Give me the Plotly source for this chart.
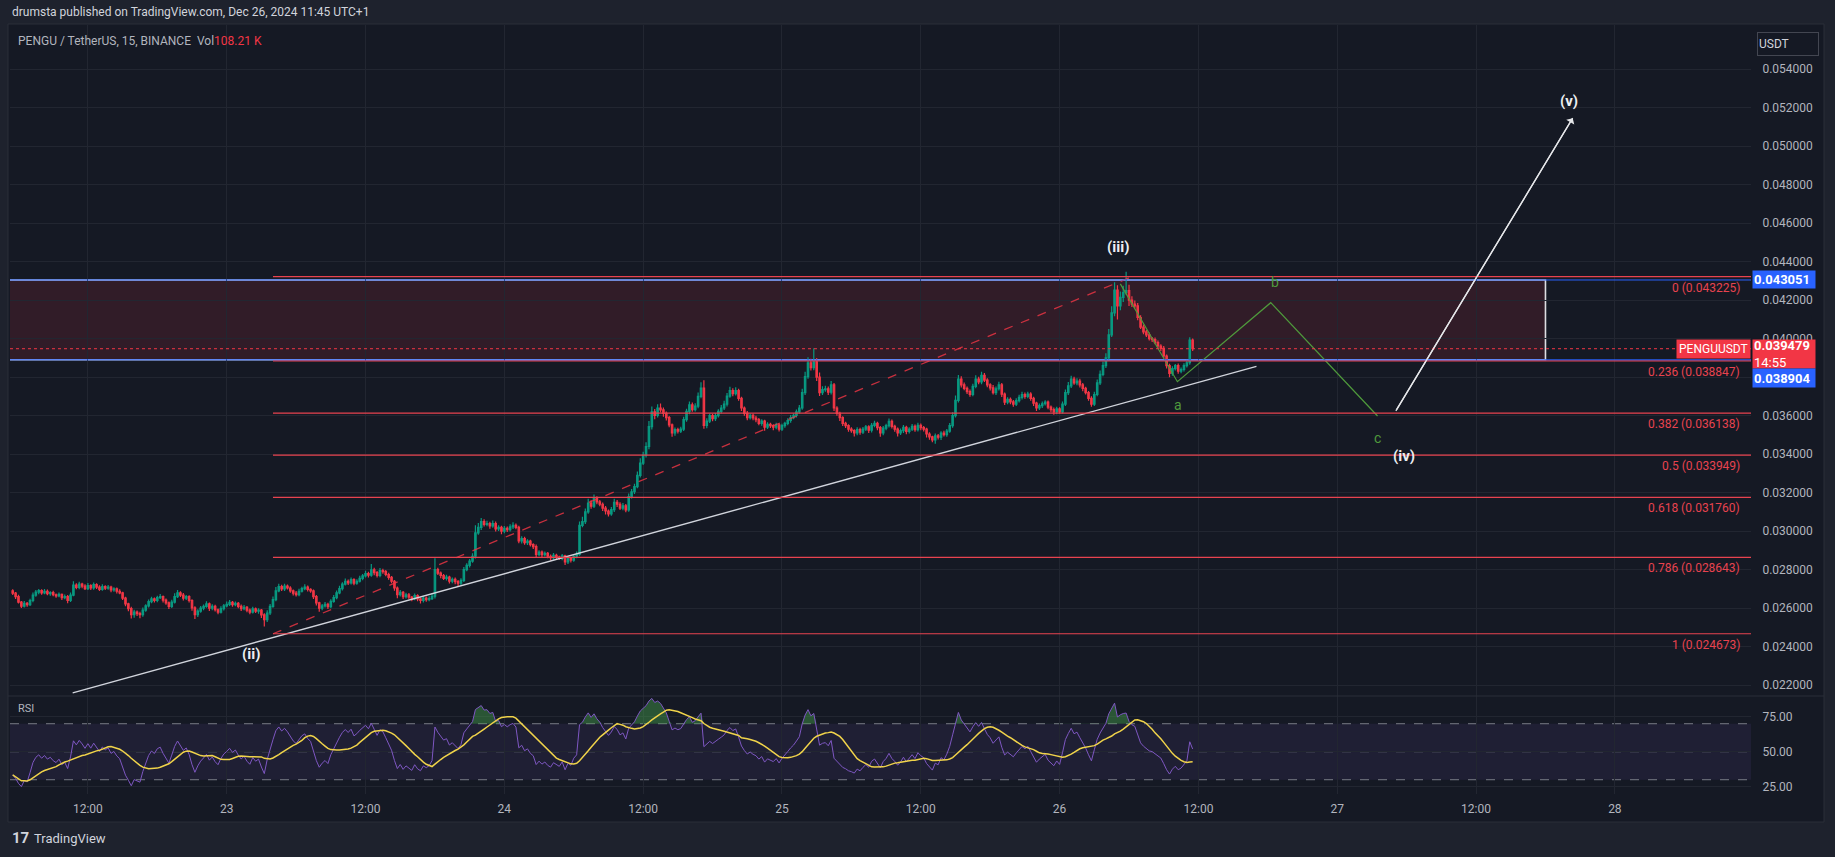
import numpy as np
import pandas as pd
import plotly.graph_objects as go

# ---------------- data (prices in units of 1e-5 USDT) ----------------
start_time = "2024-12-22 05:30"
bar_minutes = 15
price_unit = 1e-5
first_open = 2690

closes = (
    [2678, 2660, 2632, 2611, 2625, 2618, 2640, 2668, 2684, 2692, 2680, 2688, 2676, 2681, 2670, 2664]
    + [2672, 2655, 2660, 2640, 2668, 2720, 2708, 2725, 2715, 2702, 2718, 2705, 2722, 2710, 2698, 2712]
    + [2704, 2710, 2695, 2700, 2688, 2680, 2652, 2622, 2598, 2566, 2580, 2572, 2566, 2590, 2612, 2634]
    + [2648, 2640, 2655, 2660, 2642, 2628, 2610, 2632, 2660, 2680, 2668, 2652, 2660, 2640, 2602, 2566]
    + [2585, 2600, 2610, 2622, 2600, 2610, 2592, 2580, 2598, 2612, 2620, 2630, 2618, 2625, 2610, 2598]
    + [2605, 2590, 2580, 2596, 2585, 2590, 2565, 2540, 2575, 2610, 2645, 2690, 2712, 2700, 2715, 2705]
    + [2690, 2678, 2670, 2688, 2702, 2710, 2698, 2690, 2660, 2628, 2600, 2612, 2620, 2608, 2635, 2655]
    + [2680, 2702, 2725, 2740, 2732, 2748, 2730, 2740, 2755, 2768, 2780, 2772, 2799, 2785, 2770, 2795]
    + [2790, 2775, 2760, 2740, 2705, 2670, 2682, 2660, 2670, 2658, 2650, 2665, 2648, 2640, 2652, 2645]
    + [2650, 2662, 2800, 2782, 2770, 2755, 2762, 2740, 2750, 2738, 2730, 2745, 2800, 2822, 2845, 2870]
    + [2991, 3020, 3050, 3035, 3040, 3028, 3040, 3012, 3020, 3000, 3015, 3008, 3022, 3030, 3020, 2950]
    + [2962, 2940, 2948, 2930, 2920, 2880, 2892, 2878, 2885, 2870, 2862, 2875, 2866, 2860, 2872, 2840]
    + [2858, 2850, 2870, 2880, 3030, 3050, 3100, 3146, 3130, 3170, 3152, 3140, 3120, 3105, 3090, 3112]
    + [3150, 3140, 3120, 3132, 3110, 3180, 3205, 3232, 3290, 3354, 3395, 3440, 3543, 3620, 3602, 3640]
    + [3630, 3612, 3590, 3552, 3510, 3528, 3520, 3530, 3580, 3622, 3656, 3632, 3650, 3700, 3744, 3550]
    + [3572, 3600, 3585, 3600, 3622, 3640, 3660, 3702, 3730, 3715, 3730, 3690, 3640, 3612, 3590, 3602]
    + [3588, 3580, 3560, 3572, 3540, 3555, 3548, 3540, 3552, 3530, 3548, 3560, 3575, 3590, 3602, 3620]
    + [3640, 3720, 3803, 3874, 3850, 3880, 3800, 3720, 3735, 3740, 3722, 3760, 3640, 3612, 3590, 3560]
    + [3548, 3530, 3522, 3510, 3528, 3515, 3530, 3542, 3525, 3550, 3560, 3538, 3510, 3535, 3548, 3570]
    + [3545, 3530, 3510, 3522, 3540, 3518, 3530, 3545, 3528, 3550, 3538, 3530, 3505, 3490, 3474, 3495]
    + [3488, 3510, 3502, 3520, 3548, 3600, 3680, 3790, 3760, 3742, 3725, 3710, 3752, 3790, 3775, 3810]
    + [3785, 3760, 3745, 3720, 3740, 3760, 3712, 3670, 3685, 3672, 3660, 3678, 3695, 3710, 3700, 3712]
    + [3690, 3665, 3640, 3652, 3662, 3670, 3645, 3632, 3620, 3635, 3620, 3660, 3720, 3755, 3790, 3770]
    + [3780, 3760, 3742, 3720, 3690, 3660, 3710, 3770, 3815, 3860, 3900, 4020, 4134, 4253, 4170, 4215]
    + [4240, 4250, 4200, 4180, 4170, 4110, 4060, 4035, 4020, 4000, 3995, 3980, 3962, 3950, 3910, 3860]
    + [3820, 3845, 3860, 3832, 3840, 3860, 3875, 3993, 3948]
)

upper_wicks = (
    [8, 6, 10, 5, 12, 7, 9, 14, 11, 8, 6, 12, 9, 7, 10, 6]
    + [9, 5, 11, 8, 14, 20, 9, 12, 7, 10, 13, 6, 11, 8, 9, 12]
    + [7, 10, 6, 9, 8, 11, 5, 7, 6, 9, 12, 8, 10, 14, 9, 11]
    + [12, 8, 10, 14, 6, 9, 7, 12, 18, 15, 8, 11, 9, 7, 6, 8]
    + [10, 12, 9, 14, 7, 11, 8, 6, 12, 10, 15, 13, 8, 10, 7, 9]
    + [11, 7, 9, 12, 8, 10, 6, 9, 14, 12, 16, 20, 15, 10, 12, 8]
    + [9, 7, 11, 13, 10, 14, 8, 6, 7, 9, 5, 10, 12, 8, 11, 13]
    + [12, 15, 10, 14, 9, 12, 8, 11, 13, 10, 15, 9, 30, 11, 8, 14]
    + [10, 8, 9, 7, 6, 8, 12, 7, 10, 9, 6, 11, 8, 7, 10, 9]
    + [12, 15, 60, 10, 9, 8, 12, 7, 10, 9, 8, 11, 14, 12, 10, 15]
    + [40, 22, 18, 12, 14, 9, 16, 10, 11, 8, 12, 9, 14, 16, 10, 8]
    + [12, 9, 10, 8, 7, 11, 9, 8, 10, 7, 9, 12, 8, 7, 10, 6]
    + [9, 8, 12, 15, 20, 25, 18, 22, 15, 20, 12, 10, 9, 11, 8, 14]
    + [18, 12, 10, 14, 9, 16, 14, 15, 20, 25, 18, 22, 30, 28, 15, 20]
    + [24, 12, 10, 9, 8, 11, 10, 12, 15, 14, 18, 12, 15, 20, 30, 40]
    + [15, 12, 10, 14, 12, 15, 18, 16, 20, 12, 18, 10, 9, 8, 12, 10]
    + [9, 12, 8, 10, 7, 11, 9, 8, 12, 7, 10, 9, 12, 14, 10, 12]
    + [15, 20, 25, 30, 22, 70, 20, 25, 18, 15, 12, 20, 10, 9, 8, 7]
    + [9, 8, 10, 7, 12, 9, 11, 10, 8, 12, 14, 9, 8, 11, 10, 15]
    + [10, 8, 9, 11, 12, 8, 10, 12, 9, 14, 10, 8, 7, 9, 6, 12]
    + [10, 9, 12, 11, 14, 18, 25, 22, 15, 12, 10, 11, 14, 20, 12, 18]
    + [12, 10, 9, 14, 12, 16, 10, 8, 11, 9, 10, 12, 14, 15, 10, 12]
    + [10, 9, 8, 11, 12, 10, 9, 8, 10, 12, 9, 14, 16, 20, 18, 12]
    + [15, 12, 10, 9, 8, 11, 14, 18, 20, 22, 25, 30, 35, 40, 25, 30]
    + [35, 98, 30, 20, 18, 15, 12, 14, 10, 12, 9, 11, 10, 9, 12, 8]
    + [10, 12, 9, 11, 10, 12, 15, 15, 8]
)

lower_wicks = (
    [9, 12, 8, 10, 7, 11, 6, 9, 8, 12, 10, 7, 9, 11, 8, 10]
    + [7, 12, 9, 14, 8, 6, 10, 9, 12, 8, 7, 11, 9, 10, 8, 7]
    + [10, 8, 12, 9, 11, 7, 10, 12, 14, 20, 15, 12, 18, 10, 8, 9]
    + [8, 11, 9, 7, 12, 10, 14, 9, 8, 7, 10, 12, 9, 11, 15, 22]
    + [12, 9, 10, 8, 14, 11, 9, 12, 8, 10, 7, 9, 11, 8, 10, 12]
    + [9, 11, 12, 8, 10, 14, 16, 35, 12, 10, 8, 9, 7, 11, 10, 8]
    + [10, 12, 9, 8, 7, 9, 11, 10, 12, 14, 18, 10, 9, 12, 8, 7]
    + [9, 8, 10, 7, 12, 9, 11, 8, 7, 10, 9, 12, 8, 14, 10, 9]
    + [11, 9, 12, 10, 14, 18, 9, 12, 10, 11, 14, 9, 12, 15, 10, 11]
    + [9, 8, 12, 10, 14, 9, 11, 12, 10, 13, 15, 10, 9, 8, 10, 9]
    + [12, 10, 14, 11, 9, 15, 10, 13, 11, 16, 10, 12, 9, 11, 10, 12]
    + [14, 10, 12, 9, 13, 18, 10, 12, 9, 11, 14, 10, 12, 9, 11, 16]
    + [10, 12, 9, 11, 8, 10, 12, 9, 14, 10, 12, 11, 15, 18, 14, 10]
    + [12, 14, 10, 11, 12, 9, 10, 12, 9, 11, 10, 12, 14, 15, 20, 12]
    + [14, 18, 15, 12, 20, 14, 12, 10, 9, 11, 15, 12, 10, 11, 9, 18]
    + [15, 10, 14, 12, 9, 11, 10, 12, 9, 14, 10, 12, 15, 12, 14, 10]
    + [12, 14, 10, 12, 18, 9, 12, 15, 10, 12, 9, 11, 10, 12, 9, 11]
    + [10, 9, 12, 11, 15, 14, 20, 18, 12, 10, 14, 12, 15, 12, 18, 14]
    + [12, 14, 10, 18, 12, 14, 10, 9, 15, 12, 10, 14, 20, 12, 10, 9]
    + [12, 14, 18, 10, 12, 15, 11, 9, 12, 10, 14, 12, 18, 15, 12, 20]
    + [12, 14, 10, 12, 9, 11, 10, 12, 14, 10, 12, 11, 9, 10, 12, 11]
    + [10, 12, 14, 10, 12, 9, 15, 14, 10, 12, 14, 10, 9, 11, 12, 10]
    + [12, 14, 15, 10, 12, 9, 11, 14, 15, 12, 10, 9, 10, 12, 11, 9]
    + [12, 14, 15, 10, 12, 14, 10, 9, 11, 10, 12, 9, 11, 18, 70, 22]
    + [25, 12, 30, 15, 12, 14, 10, 12, 11, 10, 12, 9, 11, 14, 12, 15]
    + [20, 12, 10, 14, 11, 10, 9, 10, 12]
)

header_text = "drumsta published on TradingView.com, Dec 26, 2024 11:45 UTC+1"
symbol_text = "PENGU / TetherUS, 15, BINANCE  Vol"
vol_text = "108.21 K"
last_price = 0.039479
countdown = "14:55"
symbol_tag = "PENGUUSDT"

fib_ratios = [0, 0.236, 0.382, 0.5, 0.618, 0.786, 1]
fib_prices = [0.043225, 0.038847, 0.036138, 0.033949, 0.031760, 0.028643, 0.024673]
fib_start = "2024-12-23 04:00"
fib_end = "2024-12-29 12:00"

box_top = 0.043051
box_bottom = 0.038904
box_left = "2024-12-21 12:00"
box_right = "2024-12-27 18:00"

trend_times = ["2024-12-22 10:41", "2024-12-26 17:01"]
trend_prices = [0.021605, 0.038566]

fib_diag_times = ["2024-12-23 04:00", "2024-12-26 06:15"]
fib_diag_prices = [0.024673, 0.043225]

abc_times = ["2024-12-26 05:15", "2024-12-26 10:11", "2024-12-26 18:15", "2024-12-27 03:29"]
abc_prices = [0.04285, 0.037766, 0.04187, 0.035984]
abc_labels = ["a", "b", "c"]
abc_label_times = ["2024-12-26 10:14", "2024-12-26 18:35", "2024-12-27 03:31"]
abc_label_prices = [0.036556, 0.042945, 0.034840]

proj_times = ["2024-12-27 05:04", "2024-12-27 20:21"]
proj_prices = [0.036255, 0.051455]

wave_labels = ["(ii)", "(iii)", "(iv)", "(v)"]
wave_times = ["2024-12-23 02:04", "2024-12-26 05:04", "2024-12-27 05:46", "2024-12-27 20:02"]
wave_prices = [0.023621, 0.044764, 0.033886, 0.052369]

price_ticks = [0.022, 0.024, 0.026, 0.028, 0.030, 0.032, 0.034, 0.036, 0.038,
               0.040, 0.042, 0.044, 0.046, 0.048, 0.050, 0.052, 0.054]
price_tick_text = ["0.022000", "0.024000", "0.026000", "0.028000", "0.030000", "0.032000",
                   "0.034000", "0.036000", "", "0.040000", "0.042000", "0.044000", "0.046000",
                   "0.048000", "0.050000", "0.052000", "0.054000"]
rsi_ticks = [25, 50, 75]
rsi_levels = [70, 50, 30]
time_ticks = ["2024-12-22 12:00", "2024-12-23 00:00", "2024-12-23 12:00", "2024-12-24 00:00",
              "2024-12-24 12:00", "2024-12-25 00:00", "2024-12-25 12:00", "2024-12-26 00:00",
              "2024-12-26 12:00", "2024-12-27 00:00", "2024-12-27 12:00", "2024-12-28 00:00"]
time_tick_text = ["12:00", "23", "12:00", "24", "12:00", "25", "12:00", "26", "12:00", "27", "12:00", "28"]

rsi_len = 14
rsi_seed_gain = 6.0
rsi_seed_loss = 11.0

x_range = ["2024-12-22 05:16", "2024-12-28 11:46"]
price_range = [0.021439, 0.056296]
rsi_range = [19.8, 89.8]

# ---------------- style / geometry ----------------
W, H = 1835, 857
PL, PR = 10, 1751
MAIN_T, MAIN_B = 25, 696
RSI_T, RSI_B = 696, 794
FRAME = (8, 24, 1824, 822)

OUTER = "#1e222d"
BG = "#151924"
GRID = "#222631"
BORDER = "#2a2e39"
TXT = "#b2b5be"
UP = "#089981"
DN = "#f23645"
FIBC = "#e8434f"
BLUE = "#2962ff"
GREEN = "#4f9a3c"
FONT = "Roboto, 'Noto Sans', sans-serif"


def px_x(p):
    return p / W


def px_y(p):
    return 1 - p / H


# ---------------- derived series ----------------
n = min(len(closes), len(upper_wicks), len(lower_wicks))
times = pd.date_range(start_time, periods=n, freq=f"{bar_minutes}min")
c = np.array(closes[:n], float)
o = np.concatenate([[first_open], c[:-1]])
hi = np.maximum(o, c) + np.array(upper_wicks[:n], float)
lo = np.minimum(o, c) - np.array(lower_wicks[:n], float)

ag, al = rsi_seed_gain, rsi_seed_loss
rsi = []
prev = first_open
for v in c:
    d = v - prev
    prev = v
    ag = (ag * (rsi_len - 1) + max(d, 0)) / rsi_len
    al = (al * (rsi_len - 1) + max(-d, 0)) / rsi_len
    rsi.append(100 - 100 / (1 + ag / al) if al > 0 else 100.0)
rsi = np.array(rsi)
rsi_ma = pd.Series(rsi).rolling(rsi_len, min_periods=1).mean().values

fig = go.Figure()

fig.add_trace(go.Candlestick(
    x=times, open=o * price_unit, high=hi * price_unit, low=lo * price_unit, close=c * price_unit,
    increasing=dict(line=dict(color=UP, width=1.2), fillcolor=UP),
    decreasing=dict(line=dict(color=DN, width=1.2), fillcolor=DN),
    whiskerwidth=0, showlegend=False, hoverinfo="skip", xaxis="x", yaxis="y"))

# drawings
fig.add_trace(go.Scatter(x=fib_diag_times, y=fib_diag_prices, mode="lines",
                         line=dict(color="rgba(242,54,69,0.8)", width=1.3, dash="dash"),
                         showlegend=False, hoverinfo="skip", xaxis="x", yaxis="y"))
fig.add_trace(go.Scatter(x=trend_times, y=trend_prices, mode="lines",
                         line=dict(color="#d1d4dc", width=1.4),
                         showlegend=False, hoverinfo="skip", xaxis="x", yaxis="y"))
fig.add_trace(go.Scatter(x=abc_times, y=abc_prices, mode="lines",
                         line=dict(color=GREEN, width=1.2),
                         showlegend=False, hoverinfo="skip", xaxis="x", yaxis="y"))
fig.add_trace(go.Scatter(x=proj_times, y=proj_prices, mode="lines",
                         line=dict(color="#e6e7ea", width=1.3),
                         showlegend=False, hoverinfo="skip", xaxis="x", yaxis="y"))

# RSI
fig.add_trace(go.Scatter(x=times, y=[70] * n, mode="lines", line=dict(width=0, color="rgba(0,0,0,0)"),
                         showlegend=False, hoverinfo="skip", xaxis="x2", yaxis="y2"))
fig.add_trace(go.Scatter(x=times, y=np.maximum(rsi, 70), mode="lines", line=dict(width=0, color="rgba(0,0,0,0)"),
                         fill="tonexty", fillcolor="rgba(76,175,80,0.40)",
                         showlegend=False, hoverinfo="skip", xaxis="x2", yaxis="y2"))
fig.add_trace(go.Scatter(x=times, y=rsi, mode="lines", line=dict(color="#7e57c2", width=1),
                         showlegend=False, hoverinfo="skip", xaxis="x2", yaxis="y2"))
fig.add_trace(go.Scatter(x=times, y=rsi_ma, mode="lines", line=dict(color="#f0d34a", width=1.5),
                         showlegend=False, hoverinfo="skip", xaxis="x2", yaxis="y2"))

shapes = []
# chart frame
shapes.append(dict(type="rect", xref="paper", yref="paper", x0=px_x(FRAME[0]), x1=px_x(FRAME[2]),
                   y0=px_y(FRAME[3]), y1=px_y(FRAME[1]), fillcolor=BG, line=dict(color=BORDER, width=1),
                   layer="below"))
# rsi band
shapes.append(dict(type="rect", xref="x2 domain", yref="y2", x0=0, x1=1, y0=rsi_levels[2], y1=rsi_levels[0],
                   fillcolor="rgba(126,87,194,0.10)", line=dict(width=0), layer="below"))
for lv in rsi_levels:
    shapes.append(dict(type="line", xref="x2 domain", yref="y2", x0=0, x1=1, y0=lv, y1=lv,
                       line=dict(color="#787b86", width=1, dash="dash"), layer="below"))
# box
shapes.append(dict(type="rect", xref="x", yref="y", x0=box_left, x1=box_right, y0=box_bottom, y1=box_top,
                   fillcolor="rgba(242,54,69,0.13)", line=dict(color="#dcdde2", width=1.6), layer="below"))
# fib levels
for p in fib_prices:
    shapes.append(dict(type="line", xref="x", yref="y", x0=fib_start, x1=fib_end, y0=p, y1=p,
                       line=dict(color=FIBC, width=1.2), layer="above"))
# blue horizontal lines
for p in [box_top, box_bottom]:
    shapes.append(dict(type="line", xref="x domain", yref="y", x0=0, x1=1, y0=p, y1=p,
                       line=dict(color=BLUE, width=1), layer="above"))
# current price dotted
shapes.append(dict(type="line", xref="x domain", yref="y", x0=0, x1=1, y0=last_price, y1=last_price,
                   line=dict(color=DN, width=1, dash="dot"), layer="above"))
# pane separator
shapes.append(dict(type="line", xref="paper", yref="paper", x0=px_x(FRAME[0]), x1=px_x(FRAME[2]),
                   y0=px_y(MAIN_B), y1=px_y(MAIN_B), line=dict(color=BORDER, width=1), layer="above"))

ann = []
ann.append(dict(xref="paper", yref="paper", x=px_x(10), y=px_y(12), xanchor="left", yanchor="middle",
                text=header_text, showarrow=False, font=dict(size=12, color="#d1d4dc", family=FONT)))
ann.append(dict(xref="paper", yref="paper", x=px_x(16), y=px_y(41), xanchor="left", yanchor="middle",
                text=symbol_text + f"<span style='color:{DN}'>{vol_text}</span>", showarrow=False,
                font=dict(size=12, color=TXT, family=FONT)))
ann.append(dict(xref="paper", yref="paper", x=px_x(16), y=px_y(708), xanchor="left", yanchor="middle",
                text="RSI", showarrow=False, font=dict(size=11, color=TXT, family=FONT)))
ann.append(dict(xref="paper", yref="paper", x=px_x(10), y=px_y(838), xanchor="left", yanchor="middle",
                text="<b>17</b>", showarrow=False, font=dict(size=15, color="#d1d4dc", family=FONT)))
ann.append(dict(xref="paper", yref="paper", x=px_x(32), y=px_y(838), xanchor="left", yanchor="middle",
                text="TradingView", showarrow=False, font=dict(size=13, color="#d1d4dc", family=FONT)))
ann.append(dict(xref="paper", yref="paper", x=px_x(1788), y=px_y(44), xanchor="center", yanchor="middle",
                text="USDT", showarrow=False, width=58, height=20, align="left",
                bordercolor="#434651", borderwidth=1, borderpad=1,
                font=dict(size=12, color="#d1d4dc", family=FONT)))

# fib labels
for r, p in zip(fib_ratios, fib_prices):
    ann.append(dict(xref="x domain", yref="y", x=(1742 - PL) / (PR - PL), y=p, yshift=-11,
                    xanchor="right", yanchor="middle", text=f"{r:g} ({p:.6f})", showarrow=False,
                    font=dict(size=12, color=FIBC, family=FONT)))

# wave labels
for t, x, y in zip(wave_labels, wave_times, wave_prices):
    ann.append(dict(xref="x", yref="y", x=x, y=y, text=f"<b>{t}</b>", showarrow=False,
                    font=dict(size=15, color="#eceef2", family=FONT)))
for t, x, y in zip(abc_labels, abc_label_times, abc_label_prices):
    ann.append(dict(xref="x", yref="y", x=x, y=y, text=t, showarrow=False,
                    font=dict(size=14, color=GREEN, family=FONT)))

# projection arrow head
ann.append(dict(xref="x", yref="y", axref="x", ayref="y", x=proj_times[1], y=proj_prices[1],
                ax=proj_times[0], ay=proj_prices[0], text="", showarrow=True, arrowhead=1,
                arrowsize=1.2, arrowwidth=1.3, arrowcolor="#e6e7ea", standoff=0, startstandoff=0))

# price tags
ann.append(dict(xref="x domain", yref="y", x=1.0, y=last_price, xanchor="right", yanchor="middle",
                text=symbol_tag, showarrow=False, bgcolor=DN, borderpad=2,
                font=dict(size=12, color="white", family=FONT)))
ann.append(dict(xref="paper", yref="y", x=px_x(1752), y=box_top, xanchor="left", yanchor="middle",
                text="<b>0.043051</b>", showarrow=False, bgcolor=BLUE, width=60, height=15, borderpad=1,
                align="left", font=dict(size=13, color="white", family=FONT)))
ann.append(dict(xref="paper", yref="y", x=px_x(1752), y=last_price, yshift=-5, xanchor="left",
                yanchor="middle", text=f"<b>{last_price:.6f}</b><br>{countdown}", showarrow=False,
                bgcolor=DN, width=60, height=26, borderpad=1, align="left",
                font=dict(size=13, color="white", family=FONT)))
ann.append(dict(xref="paper", yref="y", x=px_x(1752), y=box_bottom, yshift=-18, xanchor="left",
                yanchor="middle", text="<b>0.038904</b>", showarrow=False, bgcolor=BLUE, width=60,
                height=16, borderpad=1, align="left", font=dict(size=13, color="white", family=FONT)))

xd = [px_x(PL), px_x(PR)]
fig.update_layout(
    width=W, height=H, margin=dict(l=0, r=0, t=0, b=0),
    paper_bgcolor=OUTER, plot_bgcolor=BG,
    font=dict(family=FONT, color=TXT),
    showlegend=False,
    shapes=shapes, annotations=ann,
    xaxis=dict(domain=xd, range=x_range, anchor="y", showticklabels=False, tickvals=time_ticks,
               showgrid=True, gridcolor=GRID, zeroline=False, showline=False,
               rangeslider=dict(visible=False), ticks=""),
    xaxis2=dict(domain=xd, range=x_range, anchor="y2", matches="x", tickvals=time_ticks,
                ticktext=time_tick_text, showgrid=True, gridcolor=GRID, zeroline=False, showline=False,
                ticks="outside", ticklen=4, tickcolor="rgba(0,0,0,0)",
                tickfont=dict(size=12, color=TXT, family=FONT)),
    yaxis=dict(domain=[px_y(MAIN_B), px_y(MAIN_T)], range=price_range, side="right", anchor="x",
               tickvals=price_ticks, ticktext=price_tick_text, showgrid=True, gridcolor=GRID, zeroline=False,
               showline=False, ticks="outside", ticklen=8, tickcolor="rgba(0,0,0,0)",
               tickfont=dict(size=12, color=TXT, family=FONT)),
    yaxis2=dict(domain=[px_y(RSI_B), px_y(RSI_T)], range=rsi_range, side="right", anchor="x2",
                tickvals=rsi_ticks, tickformat=".2f", showgrid=True, gridcolor=GRID, zeroline=False,
                showline=False, ticks="outside", ticklen=8, tickcolor="rgba(0,0,0,0)",
                tickfont=dict(size=12, color=TXT, family=FONT)),
)

fig.write_html("out.html", config={"displayModeBar": False})
